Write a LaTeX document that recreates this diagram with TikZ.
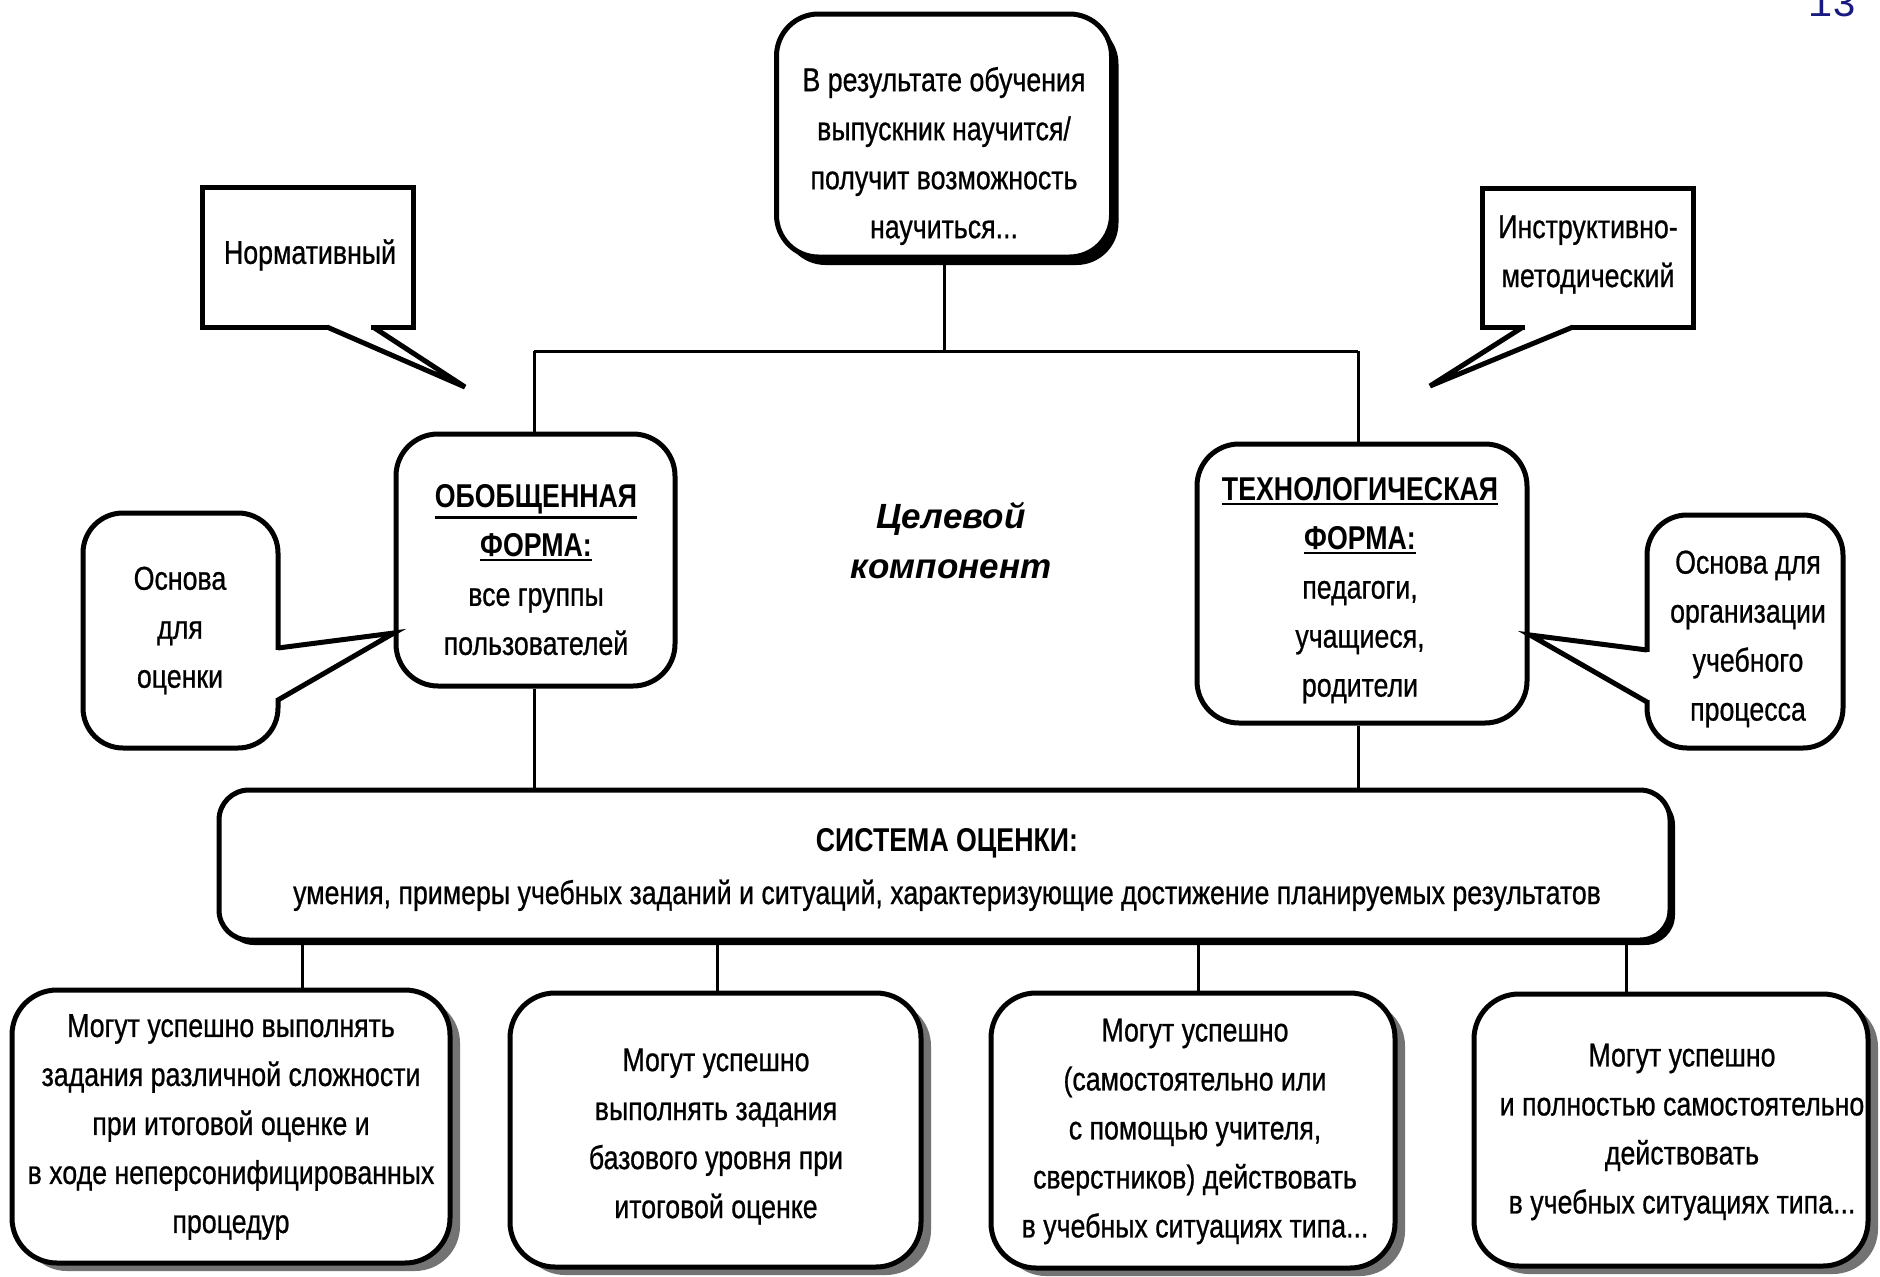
\documentclass[tikz,border=0pt]{standalone}
\usepackage{fontspec}
\setmainfont{Liberation Sans}[FakeStretch=0.81, UprightFeatures={FakeBold=0.7}]
\newfontfamily\widefont{Liberation Sans}
\newfontfamily\numfont{Liberation Mono}
\newcommand{\ulbox}[1]{\leavevmode\vtop{\hbox{#1}\kern2pt\hrule height 2.2pt}}
\usetikzlibrary{shadows}
\definecolor{navy}{RGB}{25,25,130}
\begin{document}
\begin{tikzpicture}[x=1pt,y=-1pt,
  txt/.style={align=center, font=\fontsize{33}{49}\selectfont, inner sep=0pt},
  conn/.style={line width=3pt},
  tail/.style={line width=5pt, line join=miter},
  mainbox/.style={draw, line width=5pt, rounded corners=42pt, fill=white, inner sep=0pt},
  blackshadow/.style={drop shadow={shadow xshift=7pt, shadow yshift=-8pt, fill=black, opacity=1}},
  greyshadow/.style={drop shadow={shadow xshift=10pt, shadow yshift=-8pt, fill=black!55, opacity=1}},
  callbox/.style={draw, line width=5pt, fill=white, inner sep=0pt},
  roundcall/.style={draw, line width=5pt, fill=white, rounded corners=40pt, inner sep=0pt}
]
\useasboundingbox (0,0) rectangle (1880,1277);
\fill[white] (0,0) rectangle (1880,1277);

% page number
\node[font=\numfont\fontsize{40}{40}\selectfont, text=navy, anchor=base, inner sep=0pt] (pg) at (1832,16) {13};

% junction coordinates
\coordinate (jt) at (944,351);
\coordinate (jl) at (534,351);
\coordinate (jr) at (1358,351);
\coordinate (s1) at (302,940);
\coordinate (s2) at (717,940);
\coordinate (s3) at (1198,940);
\coordinate (s4) at (1626,940);

% boxes
\node[mainbox, blackshadow, minimum width=335pt, minimum height=243pt] (top) at (944,135.5) {};
\node[mainbox, minimum width=279pt, minimum height=252pt] (obob) at (535.5,560) {};
\node[mainbox, minimum width=330pt, minimum height=279pt] (tech) at (1362,583.5) {};
\node[mainbox, rounded corners=30pt, drop shadow={shadow xshift=5pt, shadow yshift=-5pt, fill=black, opacity=1}, minimum width=1451pt, minimum height=150pt] (sys) at (944.5,865) {};
\node[mainbox, rounded corners=45pt, greyshadow, minimum width=438pt, minimum height=273pt] (b1) at (231,1126.5) {};
\node[mainbox, rounded corners=45pt, greyshadow, minimum width=411pt, minimum height=274pt] (b2) at (715.5,1130) {};
\node[mainbox, rounded corners=45pt, greyshadow, minimum width=404pt, minimum height=275pt] (b3) at (1193,1130.5) {};
\node[mainbox, rounded corners=45pt, greyshadow, minimum width=394pt, minimum height=272pt] (b4) at (1671,1130) {};

% connectors
\draw[conn] (top.south) -- (jt);
\draw[conn] (jl) -- (jr);
\draw[conn] (jl) -- (obob.north -| jl);
\draw[conn] (jr) -- (tech.north -| jr);
\draw[conn] (obob.south -| jl) -- (sys.north -| jl);
\draw[conn] (tech.south -| jr) -- (sys.north -| jr);
\draw[conn] (s1) -- (b1.north -| s1);
\draw[conn] (s2) -- (b2.north -| s2);
\draw[conn] (s3) -- (b3.north -| s3);
\draw[conn] (s4) -- (b4.north -| s4);

% callouts
\node[callbox, minimum width=211pt, minimum height=140pt] (norm) at (307.5,257) {};
\coordinate (normtip) at (465,387);
\fill[white] (329,322) -- (371,322) -- (371,332) -- (329,332) -- cycle;
\draw[tail] (327,327) -- (normtip) -- (373,327);

\node[callbox, minimum width=211pt, minimum height=139pt] (instr) at (1587.5,257.5) {};
\coordinate (instrtip) at (1430,386);
\fill[white] (1525,322) -- (1571,322) -- (1571,332) -- (1525,332) -- cycle;
\draw[tail] (1523,327) -- (instrtip) -- (1573,327);

\node[roundcall, minimum width=195pt, minimum height=235pt] (osn1) at (180.5,630.5) {};
\coordinate (osn1tip) at (394,633);
\fill[white] (273,650) -- (283,650) -- (283,698) -- (273,698) -- cycle;
\draw[tail] (278,648) -- (osn1tip) -- (278,700);

\node[roundcall, minimum width=196pt, minimum height=233pt] (osn2) at (1745,631.5) {};
\coordinate (osn2tip) at (1530,635);
\fill[white] (1642,652) -- (1652,652) -- (1652,700) -- (1642,700) -- cycle;
\draw[tail] (1647,650) -- (osn2tip) -- (1647,702);

% texts
\node[txt] (ttop) at (944,156) {В результате обучения\\выпускник научится/\\получит возможность\\научиться...};
\node[txt] (tnorm) at (310,255) {Нормативный};
\node[txt] (tinstr) at (1588,254.5) {Инструктивно-\\методический};
\node[txt] (tosn1) at (180,630.5) {Основа\\для\\оценки};
\node[txt] (tosn2) at (1748,639) {Основа для\\организации\\учебного\\процесса};
\node[txt] (tobob) at (536,570) {\ulbox{\textbf{ОБОБЩЕННАЯ}}\\\ulbox{\textbf{ФОРМА:}}\\все группы\\пользователей};
\node[txt] (ttech) at (1360,590.5) {\ulbox{\textbf{ТЕХНОЛОГИЧЕСКАЯ}}\\\ulbox{\textbf{ФОРМА:}}\\педагоги,\\учащиеся,\\родители};
\node[txt, font=\widefont\bfseries\itshape\fontsize{35}{50}\selectfont] (tcel) at (951,541) {Целевой\\компонент};
\node[txt, font=\fontsize{33}{53}\selectfont] (tsys) at (947,869.5) {\textbf{СИСТЕМА ОЦЕНКИ:}\\умения, примеры учебных заданий и ситуаций, характеризующие достижение планируемых результатов};
\node[txt] (tb1) at (231,1127) {Могут успешно выполнять\\задания различной сложности\\при итоговой оценке и\\в ходе неперсонифицированных\\процедур};
\node[txt] (tb2) at (716,1136.5) {Могут успешно\\выполнять задания\\базового уровня при\\итоговой оценке};
\node[txt] (tb3) at (1195,1131.5) {Могут успешно\\(самостоятельно или\\с помощью учителя,\\сверстников) действовать\\в учебных ситуациях типа...};
\node[txt] (tb4) at (1682,1132) {Могут успешно\\и полностью самостоятельно\\действовать\\в учебных ситуациях типа...};
\end{tikzpicture}
\end{document}
